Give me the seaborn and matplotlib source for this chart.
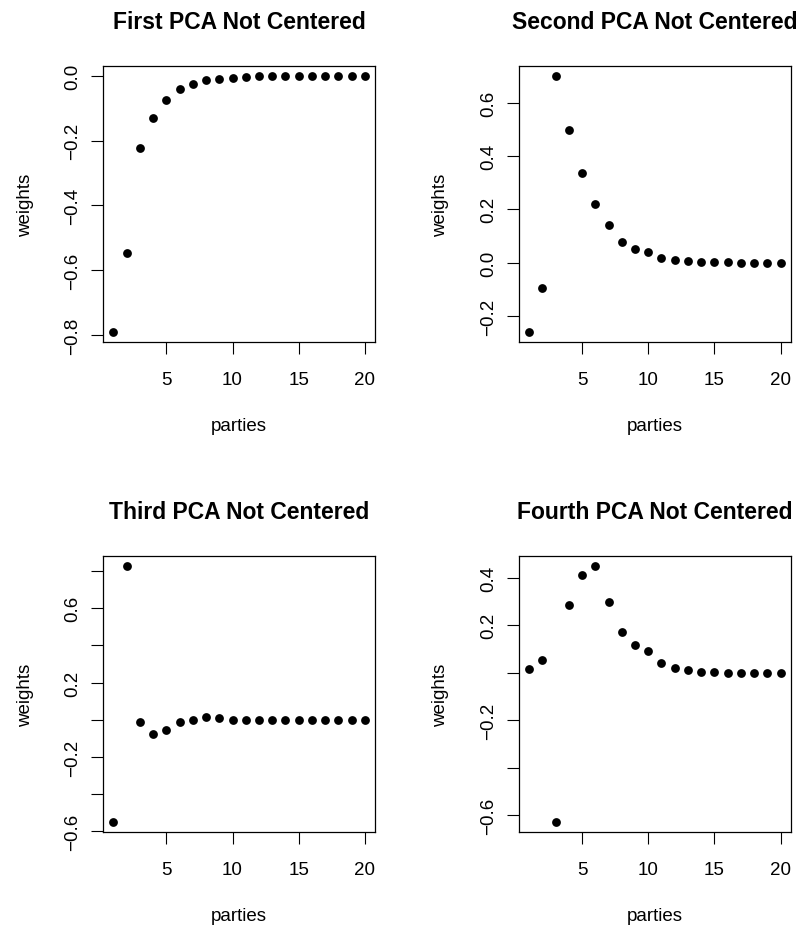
import matplotlib
matplotlib.use("Agg")
import matplotlib.pyplot as plt
import seaborn as sns
import pandas as pd

# Party index (1..20) and loadings of the first four uncentered principal components
parties = [1, 2, 3, 4, 5, 6, 7, 8, 9, 10, 11, 12, 13, 14, 15, 16, 17, 18, 19, 20]

first_pc = [-0.791, -0.546, -0.224, -0.130, -0.074, -0.041, -0.024, -0.012, -0.008, -0.006,
            -0.002, -0.001, 0.000, 0.000, 0.000, 0.000, 0.000, 0.000, 0.000, 0.000]
second_pc = [-0.260, -0.096, 0.700, 0.497, 0.336, 0.220, 0.140, 0.078, 0.053, 0.040,
             0.019, 0.009, 0.005, 0.003, 0.001, 0.001, 0.000, 0.000, 0.000, 0.000]
third_pc = [-0.550, 0.828, -0.011, -0.077, -0.054, -0.009, -0.002, 0.013, 0.009, 0.001,
            0.000, 0.000, 0.000, 0.000, 0.000, 0.000, 0.000, 0.000, 0.000, 0.000]
fourth_pc = [0.014, 0.055, -0.629, 0.284, 0.412, 0.449, 0.299, 0.169, 0.118, 0.093,
             0.039, 0.021, 0.010, 0.003, 0.001, 0.000, 0.000, 0.000, 0.000, 0.000]

titles = ["First PCA Not Centered", "Second PCA Not Centered",
          "Third PCA Not Centered", "Fourth PCA Not Centered"]

x_ticks = [5, 10, 15, 20]
y_ticks = [
    [-0.8, -0.6, -0.4, -0.2, 0.0],
    [-0.2, 0.0, 0.2, 0.4, 0.6],
    [-0.6, -0.4, -0.2, 0.0, 0.2, 0.4, 0.6, 0.8],
    [-0.6, -0.4, -0.2, 0.0, 0.2, 0.4],
]
y_tick_labels = [
    ["-0.8", "-0.6", "-0.4", "-0.2", "0.0"],
    ["-0.2", "0.0", "0.2", "0.4", "0.6"],
    ["-0.6", "", "-0.2", "", "0.2", "", "0.6", ""],
    ["-0.6", "", "-0.2", "", "0.2", "0.4"],
]

sns.set_style("white", {"axes.edgecolor": "black", "xtick.bottom": True, "ytick.left": True,
                        "text.color": "black", "axes.labelcolor": "black",
                        "xtick.color": "black", "ytick.color": "black"})
plt.rcParams["font.family"] = ["Liberation Sans", "DejaVu Sans"]
plt.rcParams["axes.unicode_minus"] = True

W, H = 799, 928
fig = plt.figure(figsize=(W / 100, H / 100), dpi=100)

# panel rectangles in pixels: left, top
ax_w, ax_h = 271.7, 276.6
corners = [(103.3, 66.7), (519.0, 66.7), (103.3, 556.7), (519.0, 556.7)]

series = [first_pc, second_pc, third_pc, fourth_pc]

for i, (vals, title) in enumerate(zip(series, titles)):
    lx, ty = corners[i]
    ax = fig.add_axes([lx / W, 1 - (ty + ax_h) / H, ax_w / W, ax_h / H])
    df = pd.DataFrame({"parties": parties, "weights": vals})
    sns.scatterplot(data=df, x="parties", y="weights", ax=ax, color="black",
                    s=40, linewidth=0, marker="o")
    ax.margins(x=0.04, y=0.04)
    ax.set_xticks(x_ticks)
    ax.set_xticklabels([str(t) for t in x_ticks])
    ax.set_yticks(y_ticks[i])
    ax.set_yticklabels([t.replace("-", "\u2212") for t in y_tick_labels[i]],
                       rotation=90, va="center")
    ax.tick_params(axis="both", direction="out", length=8.4, width=0.8,
                   color="black", labelsize=13.5, labelcolor="black")
    ax.tick_params(axis="x", pad=12)
    ax.tick_params(axis="y", pad=7.5)
    for sp in ax.spines.values():
        sp.set_visible(True)
        sp.set_color("black")
        sp.set_linewidth(0.9)
    ax.set_title(title, fontsize=16.5, fontweight="bold", pad=27, color="black")
    ax.set_xlabel("parties", fontsize=13.5, color="black")
    ax.set_ylabel("weights", fontsize=13.5, color="black")
    ax.xaxis.set_label_coords(0.5, -83 / ax_h)
    ax.xaxis.label.set_verticalalignment("center")
    ax.yaxis.set_label_coords(-78 / ax_w, 0.5)
    ax.yaxis.label.set_verticalalignment("center")

fig.savefig("out.png", dpi=100, facecolor="white")
